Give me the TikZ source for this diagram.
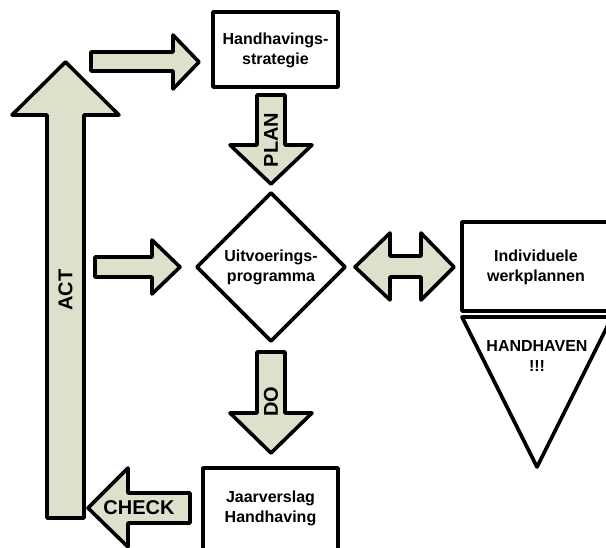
\documentclass[tikz,border=0pt]{standalone}
\usepackage{fontspec}
\setmainfont{Liberation Sans}
\usetikzlibrary{shapes.geometric}
\definecolor{arrfill}{RGB}{221,225,204}
\begin{document}
\begin{tikzpicture}[x=1pt,y=-1pt,
  outl/.style={draw=black,line width=3.6pt,line join=round},
  blockarrow/.style={outl,fill=arrfill},
  boxshape/.style={outl,fill=white},
  boxtext/.style={font=\fontsize{16}{20}\selectfont\bfseries,align=center,inner sep=0pt},
  arrtext/.style={font=\fontsize{20}{22}\selectfont\bfseries,inner sep=0pt}]
\useasboundingbox (0,0) rectangle (606,548);
\clip (0,0) rectangle (606,548);
% boxes
\draw[boxshape] (213,12) rectangle (338,87);
\node[boxtext] (strat) at (275.5,50) {Handhavings-\\strategie};
\draw[boxshape] (271,193) -- (345,267) -- (271,341) -- (197,267) -- cycle;
\node[boxtext] (prog) at (271,267) {Uitvoerings-\\programma};
\draw[boxshape] (462,222) rectangle (615,311);
\node[boxtext] (werk) at (536,267) {Individuele\\werkplannen};
\draw[boxshape] (462,317) -- (612,317) -- (537,467) -- cycle;
\node[boxtext] (handh) at (537,356) {HANDHAVEN\\!!!};
\draw[boxshape] (203,468) rectangle (338,565);
\node[boxtext] (jaar) at (270.5,508) {Jaarverslag\\Handhaving};
% block arrows
\draw[blockarrow] (91,52) -- (173,52) -- (173,35) -- (199,62) -- (173,89) -- (173,71) -- (91,71) -- cycle;
\draw[blockarrow] (47,518) -- (47,115) -- (12,115) -- (65.5,62) -- (119,115) -- (84,115) -- (84,518) -- cycle;
\node[arrtext,rotate=90] (act) at (65.5,290) {ACT};
\draw[blockarrow] (257,95) -- (285,95) -- (285,145) -- (312,145) -- (271,184) -- (230,145) -- (257,145) -- cycle;
\node[arrtext,rotate=90] (plan) at (271,140) {PLAN};
\draw[blockarrow] (95,257) -- (152,257) -- (152,240) -- (180,267) -- (152,294) -- (152,277) -- (95,277) -- cycle;
\draw[blockarrow] (355,267) -- (390,233) -- (390,256) -- (421,256) -- (421,233) -- (454,267) -- (421,300) -- (421,277) -- (390,277) -- (390,300) -- cycle;
\draw[blockarrow] (257,352) -- (285,352) -- (285,413) -- (312,413) -- (271,453) -- (230,413) -- (257,413) -- cycle;
\node[arrtext,rotate=90] (do) at (271,402) {DO};
\draw[blockarrow] (190,493) -- (190,523) -- (128,523) -- (128,547) -- (88,508) -- (128,468) -- (128,493) -- cycle;
\node[arrtext] (check) at (139,508) {CHECK};
\end{tikzpicture}
\end{document}
